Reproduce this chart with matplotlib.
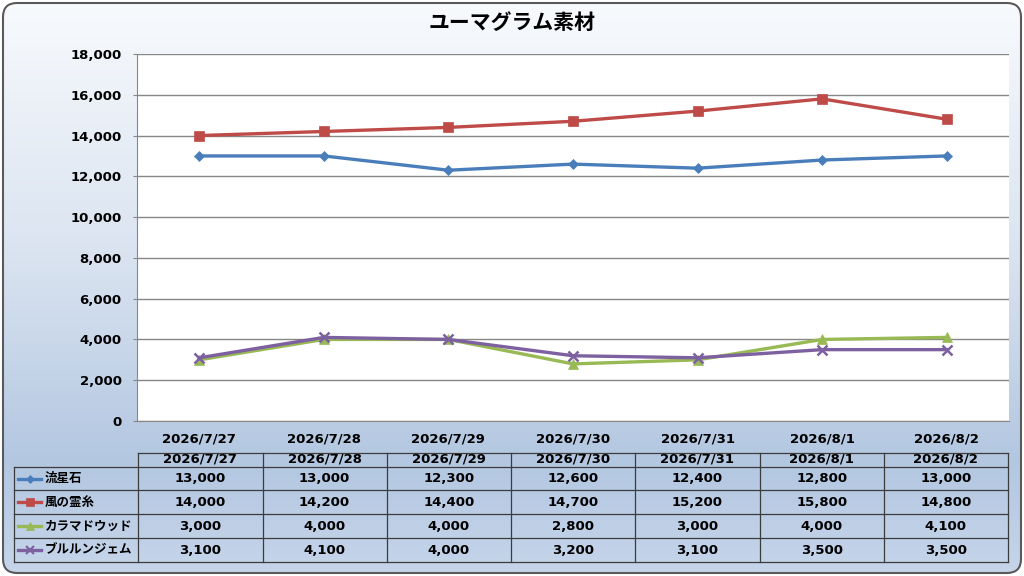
import matplotlib.pyplot as plt
import numpy as np
from matplotlib.patches import FancyBboxPatch
from matplotlib.colors import LinearSegmentedColormap
from matplotlib.ticker import FuncFormatter

plt.rcParams['font.family'] = ['Noto Sans CJK JP', 'DejaVu Sans']
NUMFONT = ['DejaVu Sans', 'Noto Sans CJK JP']

title = 'ユーマグラム素材'
dates = ['2026/7/27', '2026/7/28', '2026/7/29', '2026/7/30',
         '2026/7/31', '2026/8/1', '2026/8/2']
names = ['流星石', '風の霊糸', 'カラマドウッド', 'ブルルンジェム']
ryuseiseki = [13000, 13000, 12300, 12600, 12400, 12800, 13000]
kaze_reishi = [14000, 14200, 14400, 14700, 15200, 15800, 14800]
karama_wood = [3000, 4000, 4000, 2800, 3000, 4000, 4100]
bururun_gem = [3100, 4100, 4000, 3200, 3100, 3500, 3500]
series = [ryuseiseki, kaze_reishi, karama_wood, bururun_gem]

colors = ['#4a7ebb', '#be4b48', '#98b954', '#7d60a0']
markers = ['D', 's', '^', 'x']
msizes = [5, 7.5, 7, 7]

W, H = 1024, 576
fig = plt.figure(figsize=(W / 100, H / 100), dpi=100)

# background with gradient inside a rounded frame
bg = fig.add_axes([0, 0, 1, 1])
bg.set_xlim(0, W)
bg.set_ylim(H, 0)
bg.axis('off')
cmap = LinearSegmentedColormap.from_list(
    'bg', [(0, '#f8fafd'), (0.45, '#d9e3f0'), (0.8, '#b3c7e1'), (1.0, '#c6d5ea')])
grad = np.linspace(0, 1, 256).reshape(-1, 1)
im = bg.imshow(grad, cmap=cmap, extent=[0, W, H, 0], aspect='auto')
frame = FancyBboxPatch((3, 3), W - 6, H - 6, boxstyle='round,pad=0,rounding_size=14',
                       fc='none', ec='#5a5a5a', lw=1.5)
bg.add_patch(frame)
im.set_clip_path(frame)

fig.text(0.5, 1 - 22 / H, title, ha='center', va='center',
         fontsize=15, fontweight='bold')

# main chart
ax = fig.add_axes([137 / W, 1 - 421 / H, 872 / W, 367 / H])
ax.set_facecolor('white')
x = np.arange(len(dates))
for vals, c, m, ms, nm in zip(series, colors, markers, msizes, names):
    ax.plot(x, vals, color=c, lw=2.4, marker=m, ms=ms, mew=1.8 if m == 'x' else 0.5,
            mec=c, label=nm, zorder=3)
ax.set_xlim(-0.5, len(dates) - 0.5)
ax.set_ylim(0, 18000)
ax.set_yticks(np.arange(0, 18001, 2000))
ax.yaxis.set_major_formatter(FuncFormatter(lambda v, p: f'{int(v):,}'))
ax.set_xticks(x)
ax.set_xticklabels(dates)
ax.grid(axis='y', color='#878787', lw=1)
ax.set_axisbelow(True)
for s in ['top', 'right']:
    ax.spines[s].set_visible(False)
for s in ['left', 'bottom']:
    ax.spines[s].set_color('#878787')
ax.tick_params(axis='x', length=0, pad=8)
ax.tick_params(axis='y', length=3, color='#878787', pad=8)
for lab in ax.get_xticklabels() + ax.get_yticklabels():
    lab.set_fontweight('bold')
    lab.set_family(NUMFONT)
    lab.set_fontsize(9.5)

# data table below the chart
tb = fig.add_axes([14 / W, 1 - 562 / H, 994 / W, 109 / H])
tb.set_xlim(-1.5, len(dates) - 0.5)
tb.set_ylim(109, 0)
tb.axis('off')
rows = [0, 14, 37, 61, 85, 109]
lc = '#3c3c3c'
tb.plot([-0.5, len(dates) - 0.5], [rows[0], rows[0]], color=lc, lw=0.9, clip_on=False)
for r in rows[1:]:
    tb.plot([-1.5, len(dates) - 0.5], [r, r], color=lc, lw=0.9, clip_on=False)
tb.plot([-1.5, -1.5], [rows[1], rows[-1]], color=lc, lw=0.9, clip_on=False)
for i in range(len(dates) + 1):
    tb.plot([i - 0.5, i - 0.5], [rows[0], rows[-1]], color=lc, lw=0.9, clip_on=False)
for i, d in enumerate(dates):
    tb.text(i, 6, d, ha='center', va='center', fontsize=9.5, fontweight='bold',
            family=NUMFONT, clip_on=True)
for j, (vals, c, m, ms, nm) in enumerate(zip(series, colors, markers, msizes, names)):
    yc = (rows[j + 1] + rows[j + 2]) / 2
    tb.plot([-1.47, -1.28], [yc, yc], color=c, lw=2.4, clip_on=False)
    tb.plot([-1.375], [yc], color=c, marker=m, ms=ms * 0.8,
            mew=1.5 if m == 'x' else 0.5, mec=c, clip_on=False)
    tb.text(-1.25, yc, nm, ha='left', va='center', fontsize=9, fontweight='bold')
    for i, v in enumerate(vals):
        tb.text(i, yc, f'{v:,}', ha='center', va='center', fontsize=9.5,
                fontweight='bold', family=NUMFONT)

fig.savefig('out.png', dpi=100)
